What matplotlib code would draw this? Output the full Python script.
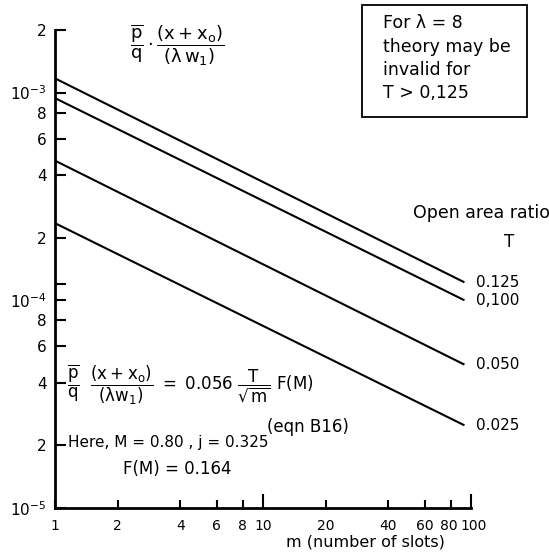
import matplotlib
matplotlib.use("Agg")
import matplotlib.pyplot as plt
import matplotlib.transforms as mtransforms
from matplotlib.patches import Rectangle
from matplotlib.ticker import NullFormatter, FixedLocator

plt.rcParams['font.family'] = ['DejaVu Sans']
plt.rcParams['mathtext.fontset'] = 'dejavusans'
plt.rcParams['mathtext.default'] = 'regular'

# Data (straight lines on log-log axes: start and end values)
m_values = [1, 93]
series_labels = ["0.125", "0,100", "0.050", "0.025"]
series_values = [
    [1.17e-3, 1.22e-4],
    [9.4e-4, 1.00e-4],
    [4.7e-4, 4.9e-5],
    [2.35e-4, 2.5e-5],
]

x_ticks = [1, 2, 4, 6, 8, 10, 20, 40, 60, 80, 100]
x_ticklabels = ["1", "2", "4", "6", "8", "10", "20", "40", "60", "80", "100"]
y_ticks = [1e-5, 2e-5, 4e-5, 6e-5, 8e-5, 1e-4, 2e-4, 4e-4, 6e-4, 8e-4, 1e-3, 2e-3]
y_ticklabels = [r"$10^{-5}$", "2", "4", "6", "8", r"$10^{-4}$", "2", "4", "6", "8", r"$10^{-3}$", "2"]
y_extra_ticks = [1.2e-4]

W, H = 549, 553
fig = plt.figure(figsize=(W / 100, H / 100), dpi=100)
ax = fig.add_axes([55 / W, 1 - 508 / H, (471 - 55) / W, (508 - 30) / H])
ax.set_xscale('log')
ax.set_yscale('log')
ax.set_xlim(1, 100)
ax.set_ylim(1e-5, 2e-3)

for vals, lab in zip(series_values, series_labels):
    ax.plot(m_values, vals, color='black', lw=1.5, solid_capstyle='butt')
    ax.annotate(lab, xy=(m_values[-1], vals[-1]), xytext=(8, 0), textcoords='offset points',
                ha='left', va='center', fontsize=11, annotation_clip=False)

ax.spines['top'].set_visible(False)
ax.spines['right'].set_visible(False)
ax.spines['left'].set_linewidth(2)
ax.spines['bottom'].set_linewidth(2)

ax.xaxis.set_major_locator(FixedLocator(x_ticks))
ax.set_xticklabels(x_ticklabels)
ax.xaxis.set_minor_locator(FixedLocator([]))
ax.xaxis.set_minor_formatter(NullFormatter())
ax.yaxis.set_major_locator(FixedLocator(y_ticks))
ax.set_yticklabels(y_ticklabels)
ax.yaxis.set_minor_locator(FixedLocator(y_extra_ticks))
ax.yaxis.set_minor_formatter(NullFormatter())

ax.tick_params(axis='both', which='both', direction='in', width=1.5)
ax.tick_params(axis='y', which='both', length=8, pad=6, labelsize=11)
ax.tick_params(axis='x', which='major', length=6, pad=8, labelsize=10)
for t in ax.xaxis.get_major_ticks():
    if t.get_loc() in (10, 100):
        t.tick1line.set_markersize(10)

# nudge the crowded 80 / 100 labels apart slightly
for lab in ax.get_xticklabels():
    if lab.get_text() == "100":
        lab.set_transform(lab.get_transform() + mtransforms.ScaledTranslation(3 / 100, 0, fig.dpi_scale_trans))
    elif lab.get_text() == "80":
        lab.set_transform(lab.get_transform() + mtransforms.ScaledTranslation(-2 / 100, 0, fig.dpi_scale_trans))

# x-axis title
fig.text(365 / W, 1 - 542 / H, "m (number of slots)", fontsize=11.5, ha='center', va='center')

# Top-left y quantity label
fig.text(130 / W, 1 - 45 / H, r"$\dfrac{\overline{p}}{q}\cdot\dfrac{(x+x_o)}{(\lambda\, w_1)}$",
         fontsize=13, ha='left', va='center')

# Box annotation
fig.add_artist(Rectangle((362 / W, 1 - 117 / H), (527 - 362) / W, (117 - 5) / H,
                         transform=fig.transFigure, facecolor='white', edgecolor='black', lw=1.3))
box_lines = ["For \u03bb = 8", "theory may be", "invalid for", "T > 0,125"]
box_line_y = [23, 47, 70, 93]
for txt, yy in zip(box_lines, box_line_y):
    fig.text(383 / W, 1 - yy / H, txt, fontsize=12.5, ha='left', va='center')

# Right legend title
fig.text(413 / W, 1 - 213 / H, "Open area ratio", fontsize=12.5, ha='left', va='center')
fig.text(509 / W, 1 - 242 / H, "T", fontsize=12, ha='center', va='center')

# Equation
fig.text(67 / W, 1 - 385 / H,
         r"$\dfrac{\overline{p}}{q}\ \ \dfrac{(x+x_o)}{(\lambda w_1)}\ =\ 0.056\ \dfrac{T}{\sqrt{m}}\ F(M)$",
         fontsize=12, ha='left', va='center')
fig.text(267 / W, 1 - 427 / H, "(eqn B16)", fontsize=12, ha='left', va='center')
fig.text(68 / W, 1 - 443 / H, "Here, M = 0.80 , j = 0.325", fontsize=11, ha='left', va='center')
fig.text(123 / W, 1 - 469 / H, "F(M) = 0.164", fontsize=12, ha='left', va='center')

fig.savefig("out.png", dpi=100)
